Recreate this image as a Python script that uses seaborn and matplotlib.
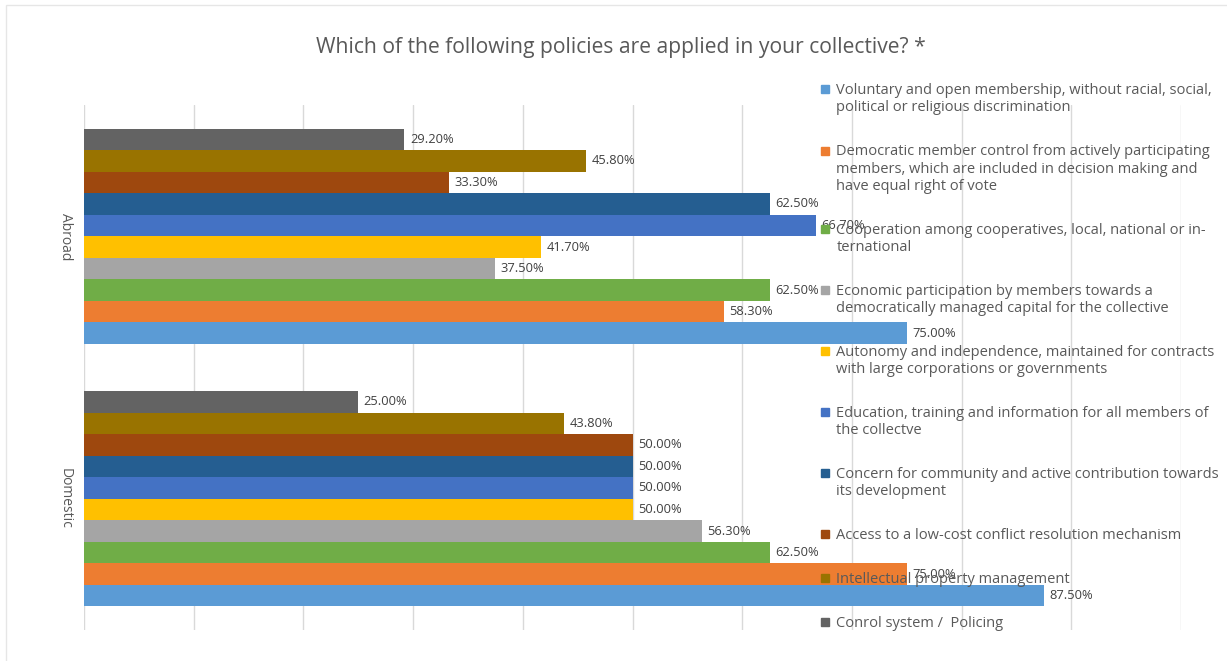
import pandas as pd
import matplotlib
matplotlib.use("Agg")
import matplotlib.pyplot as plt
import seaborn as sns
from matplotlib.lines import Line2D
from matplotlib.patches import Rectangle

# Survey answers (share of respondents)
groups = ['Abroad', 'Domestic']
policies = [
    'Voluntary and open membership, without racial, social,\npolitical or religious discrimination',
    'Democratic member control from actively participating\nmembers, which are included in decision making and\nhave equal right of vote',
    'Cooperation among cooperatives, local, national or in-\nternational',
    'Economic participation by members towards a\ndemocratically managed capital for the collective',
    'Autonomy and independence, maintained for contracts\nwith large corporations or governments',
    'Education, training and information for all members of\nthe collectve',
    'Concern for community and active contribution towards\nits development',
    'Access to a low-cost conflict resolution mechanism',
    'Intellectual property management',
    'Conrol system /  Policing',
]
abroad = [75.0, 58.3, 62.5, 37.5, 41.7, 66.7, 62.5, 33.3, 45.8, 29.2]
domestic = [87.5, 75.0, 62.5, 56.3, 50.0, 50.0, 50.0, 50.0, 43.8, 25.0]
colors = ['#5B9BD5', '#ED7D31', '#70AD47', '#A5A5A5', '#FFC000',
          '#4472C4', '#255E91', '#9E480E', '#997300', '#636363']

df = pd.DataFrame({
    'group': ['Abroad'] * len(policies) + ['Domestic'] * len(policies),
    'policy': policies * 2,
    'value': abroad + domestic,
})

sns.set_style('white')
plt.rcParams['font.family'] = ['Open Sans', 'DejaVu Sans']

fig = plt.figure(figsize=(12.27, 6.61), dpi=100)
ax = fig.add_axes([84 / 1227, 1 - 630 / 661, (1181 - 84) / 1227, (630 - 105) / 661])

# last policy on top inside each group, like the Excel chart
hue_order = policies[::-1]
palette = dict(zip(policies, colors))
sns.barplot(data=df, y='group', x='value', hue='policy', order=groups,
            hue_order=hue_order, palette=palette, orient='h', width=0.82,
            saturation=1, linewidth=0, legend=False, ax=ax)

for cont in ax.containers:
    vals = [b.get_width() for b in cont]
    ax.bar_label(cont, labels=[f'{v:.2f}%' for v in vals], padding=4,
                 fontsize=9.3, color='#404040')

ax.set_xlim(0, 100)
ax.set_xticks(range(0, 101, 10))
ax.set_xticklabels([])
ax.grid(axis='x', color='#D9D9D9', linewidth=1)
ax.set_axisbelow(True)
for s in ax.spines.values():
    s.set_visible(False)
ax.tick_params(axis='both', length=0)
ax.set_xlabel('')
ax.set_ylabel('')
ax.set_yticks([0, 1])
ax.set_yticklabels(groups, rotation=270, va='center', color='#595959', fontsize=10)
ax.tick_params(axis='y', pad=8)

fig.suptitle('Which of the following policies are applied in your collective? *',
             x=0.506, y=1 - 47 / 661, va='center', fontsize=15.2, color='#595959')

handles = [Line2D([], [], marker='s', linestyle='none', markersize=6,
                  markerfacecolor=c, markeredgecolor=c) for c in colors]
leg = fig.legend(handles, policies, loc='upper left', bbox_to_anchor=(0.6685, 0.874),
                 frameon=False, fontsize=10.5, labelcolor='#595959',
                 handlelength=0.6, handleheight=1.2, handletextpad=0.5,
                 labelspacing=1.98, borderpad=0, borderaxespad=0)
# put the markers on the first line of each entry
for col in leg._legend_handle_box.get_children():
    for row in col.get_children():
        row.align = 'top'

# faint chart border (left and top)
fig.patches.append(Rectangle((6 / 1227, -0.1), 1.2, 1.1 - 5 / 661, transform=fig.transFigure,
                             fill=False, edgecolor='#E6E6E6', linewidth=1))

fig.savefig('out.png', dpi=100)
